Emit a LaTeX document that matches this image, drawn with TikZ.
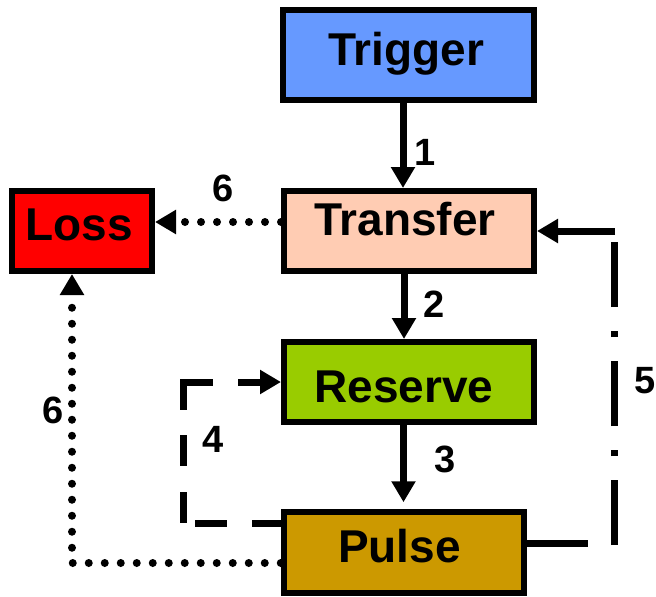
\documentclass[tikz,border=0pt]{standalone}
\usepackage{fontspec}
\setmainfont{Liberation Sans}
\usetikzlibrary{arrows.meta}
\definecolor{trigblue}{HTML}{6699FF}
\definecolor{transpeach}{HTML}{FFCCB3}
\definecolor{lossred}{HTML}{FF0000}
\definecolor{resgreen}{HTML}{99CC00}
\definecolor{pulsegold}{HTML}{CC9900}
\begin{document}
\begin{tikzpicture}[x=1pt,y=-1pt,
  box/.style={draw=black, line width=6pt, rectangle, inner sep=0pt},
  lbl/.style={font=\fontsize{46}{50}\selectfont\bfseries, anchor=base, inner sep=0pt},
  num/.style={font=\fontsize{38}{42}\selectfont\bfseries, anchor=base, inner sep=0pt},
  tip/.style={-{Triangle[length=21pt,width=23pt]}},
  solidarrow/.style={line width=7pt, tip},
  dotline/.style={line width=8pt, line cap=round, dash pattern=on 0pt off 16pt, tip},
  dashfour/.style={line width=7pt, tip, dash pattern=on 29pt off 25pt on 32pt off 12pt on 31pt off 26pt on 31pt off 25pt on 58pt off 25pt on 200pt off 10pt},
  dashdotfive/.style={line width=7pt, dash pattern=on 65pt off 24pt on 6pt off 24pt},
  plainline/.style={line width=7pt}
]
\useasboundingbox (0,0) rectangle (656,597);

% boxes
\node[box, fill=trigblue, minimum width=251pt, minimum height=90pt] (trigger) at (408.5,55) {};
\node[box, fill=transpeach, minimum width=250pt, minimum height=80pt] (transfer) at (409,231) {};
\node[box, fill=lossred, minimum width=140pt, minimum height=80pt] (loss) at (82,231) {};
\node[box, fill=resgreen, minimum width=250pt, minimum height=80pt] (reserve) at (409,382) {};
\node[box, fill=pulsegold, minimum width=240.5pt, minimum height=80.5pt] (pulse) at (404,552.5) {};

% box texts
\node[lbl] (ttrigger) at (406,65) {Trigger};
\node[lbl] (ttransfer) at (405,235) {Transfer};
\node[lbl] (tloss) at (79,240) {Loss};
\node[lbl] (treserve) at (404,402) {Reserve};
\node[lbl] (tpulse) at (399.5,562) {Pulse};

% solid arrows
\draw[solidarrow] ([xshift=-5.5pt]trigger.south) -- ([xshift=-6pt]transfer.north);
\draw[solidarrow] ([xshift=-5pt]transfer.south) -- ([xshift=-5pt]reserve.north);
\draw[solidarrow, shorten >=7pt] ([xshift=-5.5pt]reserve.south) -- ([xshift=-0.5pt]pulse.north);

% dotted arrows to loss
\draw[dotline] ([yshift=9pt]transfer.west) -- ([yshift=9pt]loss.east);
\coordinate (c6) at (72,563);
\draw[dotline] (pulse.west |- c6) -- (c6) -- (c6 |- loss.south);

% dashed loop 4
\coordinate (c4) at (183,523);
\draw[dashfour] (pulse.west |- c4) -- (c4) |- (reserve.west);

% dash-dot return 5
\coordinate (c5a) at (588,543);
\coordinate (c5b) at (614,545);
\coordinate (c5c) at (614,238);
\coordinate (c5d) at (615,231);
\draw[plainline] (pulse.east |- c5a) -- (c5a);
\draw[dashdotfive] (c5b) -- (c5c);
\draw[solidarrow] (c5d) -- (transfer.east);

% labels
\node[num] (n1) at (425,165) {1};
\node[num] (n2) at (434.5,317) {2};
\node[num] (n3) at (445,472) {3};
\node[num] (n4) at (213.5,452) {4};
\node[num] (n5) at (645,393) {5};
\node[num] (n6a) at (223,201) {6};
\node[num] (n6b) at (53,423) {6};
\end{tikzpicture}
\end{document}
